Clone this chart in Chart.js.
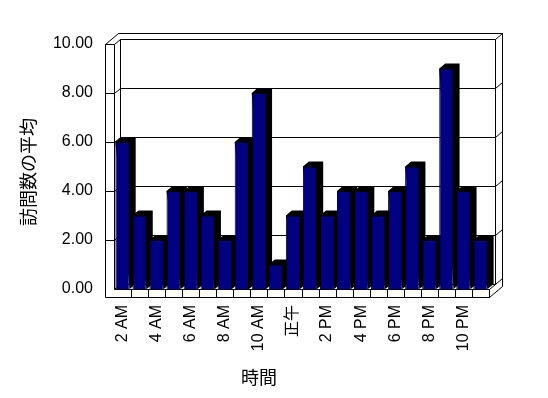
<!DOCTYPE html>
<html><head><meta charset="utf-8">
<style>html,body{margin:0;padding:0;background:#fff}canvas{display:block}</style>
<script src="https://cdn.jsdelivr.net/npm/chart.js@4/dist/chart.umd.min.js"></script>
</head><body>
<canvas id="c" width="548" height="398"></canvas>
<script>
const categories = ['2 AM','3 AM','4 AM','5 AM','6 AM','7 AM','8 AM','9 AM','10 AM','11 AM','正午',
  '1 PM','2 PM','3 PM','4 PM','5 PM','6 PM','7 PM','8 PM','9 PM','10 PM','11 PM'];
const visits = [6,3,2,4,4,3,2,6,8,1,3,5,3,4,4,3,4,5,2,9,4,2];
const yMin = 0, yMax = 10, yStep = 2;
const xTitle = '時間';
const yTitle = '訪問数の平均';

const DX1 = 6, DY1 = -5, DX2 = 13, DY2 = -11;
const WALL = 9, FLOOR = 8;
const FONT = "'Liberation Sans', Arial, 'Noto Sans CJK JP', sans-serif";

function px(v){ return Math.round(v) + 0.5; }

const frame3d = {
  id: 'frame3d',
  beforeDatasetsDraw(chart){
    const {ctx, chartArea: a, scales: {x, y}} = chart;
    const L = a.left, R = a.right, T = a.top, B = a.bottom;
    const WL = L - WALL, FB = B + FLOOR;
    ctx.save();
    ctx.strokeStyle = '#000'; ctx.lineWidth = 1;
    const line = (x1, y1, x2, y2) => { ctx.beginPath(); ctx.moveTo(px(x1), px(y1)); ctx.lineTo(px(x2), px(y2)); ctx.stroke(); };
    // gridlines + wall ticks
    y.ticks.forEach(t => {
      const py = y.getPixelForValue(t.value);
      if (t.value !== yMin) line(WL, py, L, py);
      line(L, py, L + DX1, py + DY1);
      line(L + DX1, py + DY1, R + DX1, py + DY1);
      line(R + DX1, py + DY1, R + DX2, py + DY2);
    });
    // top
    line(WL, T, WL + DX2, T + DY2);
    line(WL + DX2, T + DY2, R + DX2, T + DY2);
    // verticals
    line(WL, T, WL, FB);
    line(L, T, L, B);
    line(L + DX1, T + DY1, L + DX1, B + DY1);
    line(R + DX1, T + DY1, R + DX1, B + DY1);
    line(R + DX2, T + DY2, R + DX2, FB + DY2);
    // floor
    line(WL, FB, R, FB);
    line(L, B, R, B);
    line(R, B, R, FB);
    line(R, B, R + DX1, B + DY1);
    line(R, FB, R + DX2, FB + DY2);
    const n = categories.length, slot = (R - L) / n;
    for (let i = 1; i < n; i++) line(L + i * slot, B, L + i * slot, FB);
    // bar sides and tops
    const meta = chart.getDatasetMeta(0);
    ctx.fillStyle = '#000';
    meta.data.forEach(bar => {
      const {x: bx, y: by, base, width} = bar.getProps(['x', 'y', 'base', 'width'], true);
      const x0 = bx - width / 2, x1 = bx + width / 2;
      ctx.beginPath();
      ctx.moveTo(x0, by);
      ctx.lineTo(x0 + DX1, by + DY1);
      ctx.lineTo(x1 + DX1, by + DY1);
      ctx.lineTo(x1 + DX1, base + DY1);
      ctx.lineTo(x1, base);
      ctx.closePath();
      ctx.fill();
    });
    ctx.restore();
  }
};

const titles = {
  id: 'titles',
  afterDraw(chart){
    const ctx = chart.ctx;
    ctx.save();
    ctx.fillStyle = '#000';
    ctx.font = "18px 'Noto Sans CJK JP', sans-serif";
    ctx.textAlign = 'center'; ctx.textBaseline = 'middle';
    ctx.fillText(xTitle, 259, 377);
    ctx.translate(28, 172);
    ctx.rotate(-Math.PI / 2);
    ctx.fillText(yTitle, 0, 0);
    ctx.restore();
  }
};

new Chart(document.getElementById('c'), {
  type: 'bar',
  data: {
    labels: categories,
    datasets: [{
      data: visits,
      backgroundColor: '#000080',
      borderColor: '#000',
      borderWidth: 1,
      categoryPercentage: 1,
      barPercentage: 0.84
    }]
  },
  options: {
    responsive: false, animation: false, devicePixelRatio: 1,
    layout: {padding: {top: 44, right: 59, left: 0, bottom: 0}},
    plugins: {legend: {display: false}, tooltip: {enabled: false}},
    scales: {
      x: {
        grid: {display: false, drawTicks: false}, border: {display: false},
        ticks: {autoSkip: false, maxRotation: 90, minRotation: 90, padding: 16, color: '#000',
          font: {family: FONT, size: 16},
          callback(v, i){ return i % 2 === 0 ? categories[i] : ''; }},
        afterFit(s){ s.height = 109; }
      },
      y: {
        min: yMin, max: yMax,
        grid: {display: false, drawTicks: false}, border: {display: false},
        ticks: {stepSize: yStep, padding: 21, color: '#000', font: {family: FONT, size: 16},
          callback: v => v.toFixed(2)},
        afterFit(s){ s.width = 114; }
      }
    }
  },
  plugins: [frame3d, titles]
});
</script>
</body></html>
